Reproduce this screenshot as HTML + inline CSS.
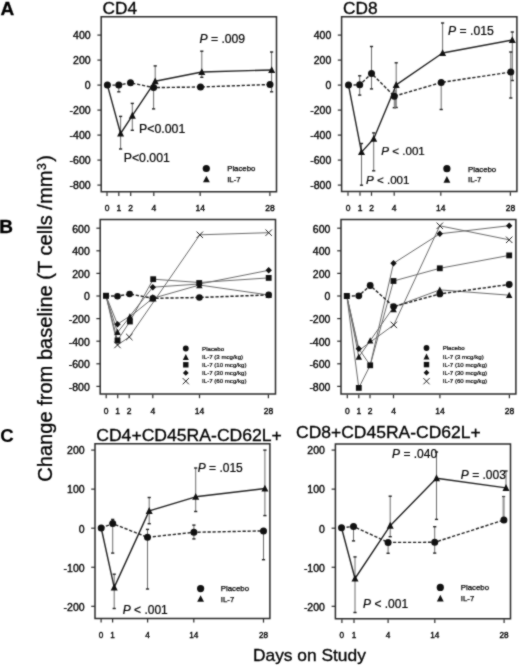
<!DOCTYPE html><html><head><meta charset="utf-8"><style>html,body{margin:0;padding:0;background:#fff;}svg{display:block}#w{width:520px;height:667px;overflow:hidden;filter:grayscale(1)}</style></head><body>
<div id="w">
<svg width="520" height="667" viewBox="0 0 520 667" font-family='"Liberation Sans", sans-serif'>
<defs><filter id="soft" x="0" y="0" width="520" height="667" filterUnits="userSpaceOnUse" color-interpolation-filters="sRGB"><feConvolveMatrix order="3" kernelMatrix="1 2 1 2 12 2 1 2 1" divisor="24" edgeMode="duplicate"/></filter></defs>
<g filter="url(#soft)">
<rect width="520" height="667" fill="#fff"/>
<text x="0.5" y="14.7" font-size="19" text-anchor="start" font-weight="bold" font-style="normal" fill="#000" stroke="#000" stroke-width="0.3" >A</text>
<text x="-0.8" y="233" font-size="19" text-anchor="start" font-weight="bold" font-style="normal" fill="#000" stroke="#000" stroke-width="0.3" >B</text>
<text x="0.3" y="441.9" font-size="18.6" text-anchor="start" font-weight="bold" font-style="normal" fill="#000" stroke="#000" stroke-width="0.1" >C</text>
<text transform="translate(52.3,481.8) rotate(-90)" font-size="20.1" fill="#000" stroke="#000" stroke-width="0.3">Change from baseline (T cells /mm<tspan font-size="12.2" dy="-6.5" dx="0.5">3</tspan><tspan dy="6.5" dx="1.6">)</tspan></text>
<text transform="translate(309.4,661.2) scale(1.06,1)" font-size="16.4" text-anchor="middle" font-weight="normal" font-style="normal" fill="#000" stroke="#000" stroke-width="0.3" >Days on Study</text>
<path d="M101.2 191.7V16.7H276.5V191.7Z" fill="none" stroke="#2a2a2a" stroke-width="1.5"/>
<text transform="translate(102.5,14.3) scale(1.06,1)" font-size="16.3" text-anchor="start" font-weight="normal" font-style="normal" fill="#000" stroke="#000" stroke-width="0.3" >CD4</text>
<line x1="97.4" y1="35.1" x2="101.2" y2="35.1" stroke="#2a2a2a" stroke-width="1.2"/>
<text x="90.6" y="39.4" font-size="10.5" text-anchor="end" font-weight="normal" font-style="normal" fill="#000" stroke="#000" stroke-width="0.35" >400</text>
<line x1="97.4" y1="60.1" x2="101.2" y2="60.1" stroke="#2a2a2a" stroke-width="1.2"/>
<text x="90.6" y="64.41" font-size="10.5" text-anchor="end" font-weight="normal" font-style="normal" fill="#000" stroke="#000" stroke-width="0.35" >200</text>
<line x1="97.4" y1="85.1" x2="101.2" y2="85.1" stroke="#2a2a2a" stroke-width="1.2"/>
<text x="90.6" y="89.41" font-size="10.5" text-anchor="end" font-weight="normal" font-style="normal" fill="#000" stroke="#000" stroke-width="0.35" >0</text>
<line x1="97.4" y1="110.1" x2="101.2" y2="110.1" stroke="#2a2a2a" stroke-width="1.2"/>
<text x="90.6" y="114.41" font-size="10.5" text-anchor="end" font-weight="normal" font-style="normal" fill="#000" stroke="#000" stroke-width="0.35" >-200</text>
<line x1="97.4" y1="135.1" x2="101.2" y2="135.1" stroke="#2a2a2a" stroke-width="1.2"/>
<text x="90.6" y="139.41" font-size="10.5" text-anchor="end" font-weight="normal" font-style="normal" fill="#000" stroke="#000" stroke-width="0.35" >-400</text>
<line x1="97.4" y1="160.1" x2="101.2" y2="160.1" stroke="#2a2a2a" stroke-width="1.2"/>
<text x="90.6" y="164.41" font-size="10.5" text-anchor="end" font-weight="normal" font-style="normal" fill="#000" stroke="#000" stroke-width="0.35" >-600</text>
<line x1="97.4" y1="185.1" x2="101.2" y2="185.1" stroke="#2a2a2a" stroke-width="1.2"/>
<text x="90.6" y="189.41" font-size="10.5" text-anchor="end" font-weight="normal" font-style="normal" fill="#000" stroke="#000" stroke-width="0.35" >-800</text>
<line x1="107" y1="192.3" x2="107" y2="195.9" stroke="#2a2a2a" stroke-width="1.2"/>
<text x="107" y="211" font-size="8.5" text-anchor="middle" font-weight="normal" font-style="normal" fill="#000" stroke="#000" stroke-width="0.35" >0</text>
<line x1="118.8" y1="192.3" x2="118.8" y2="195.9" stroke="#2a2a2a" stroke-width="1.2"/>
<text x="118.8" y="211" font-size="8.5" text-anchor="middle" font-weight="normal" font-style="normal" fill="#000" stroke="#000" stroke-width="0.35" >1</text>
<line x1="130.7" y1="192.3" x2="130.7" y2="195.9" stroke="#2a2a2a" stroke-width="1.2"/>
<text x="130.7" y="211" font-size="8.5" text-anchor="middle" font-weight="normal" font-style="normal" fill="#000" stroke="#000" stroke-width="0.35" >2</text>
<line x1="153.8" y1="192.3" x2="153.8" y2="195.9" stroke="#2a2a2a" stroke-width="1.2"/>
<text x="153.8" y="211" font-size="8.5" text-anchor="middle" font-weight="normal" font-style="normal" fill="#000" stroke="#000" stroke-width="0.35" >4</text>
<line x1="200.2" y1="192.3" x2="200.2" y2="195.9" stroke="#2a2a2a" stroke-width="1.2"/>
<text x="200.2" y="211" font-size="8.5" text-anchor="middle" font-weight="normal" font-style="normal" fill="#000" stroke="#000" stroke-width="0.35" >14</text>
<line x1="269.9" y1="192.3" x2="269.9" y2="195.9" stroke="#2a2a2a" stroke-width="1.2"/>
<text x="269.9" y="211" font-size="8.5" text-anchor="middle" font-weight="normal" font-style="normal" fill="#000" stroke="#000" stroke-width="0.35" >28</text>
<line x1="118.8" y1="85.1" x2="118.8" y2="91.8" stroke="#6a6a6a" stroke-width="1"/>
<line x1="117.2" y1="91.8" x2="120.4" y2="91.8" stroke="#222" stroke-width="1.4"/>
<line x1="120.6" y1="116.4" x2="120.6" y2="149" stroke="#6a6a6a" stroke-width="1"/>
<line x1="119" y1="116.4" x2="122.2" y2="116.4" stroke="#222" stroke-width="1.4"/>
<line x1="119" y1="149" x2="122.2" y2="149" stroke="#222" stroke-width="1.4"/>
<line x1="132.3" y1="103.4" x2="132.3" y2="130.3" stroke="#6a6a6a" stroke-width="1"/>
<line x1="130.7" y1="103.4" x2="133.9" y2="103.4" stroke="#222" stroke-width="1.4"/>
<line x1="130.7" y1="130.3" x2="133.9" y2="130.3" stroke="#222" stroke-width="1.4"/>
<line x1="155.2" y1="65.9" x2="155.2" y2="81.3" stroke="#6a6a6a" stroke-width="1"/>
<line x1="153.6" y1="65.9" x2="156.8" y2="65.9" stroke="#222" stroke-width="1.4"/>
<line x1="153.6" y1="87.6" x2="153.6" y2="108.9" stroke="#6a6a6a" stroke-width="1"/>
<line x1="152" y1="108.9" x2="155.2" y2="108.9" stroke="#222" stroke-width="1.4"/>
<line x1="201.8" y1="51.2" x2="201.8" y2="77.3" stroke="#6a6a6a" stroke-width="1"/>
<line x1="200.2" y1="51.2" x2="203.4" y2="51.2" stroke="#222" stroke-width="1.4"/>
<line x1="200.2" y1="77.3" x2="203.4" y2="77.3" stroke="#222" stroke-width="1.4"/>
<line x1="271.6" y1="52" x2="271.6" y2="91.8" stroke="#6a6a6a" stroke-width="1"/>
<line x1="270" y1="52" x2="273.2" y2="52" stroke="#222" stroke-width="1.4"/>
<line x1="270" y1="91.8" x2="273.2" y2="91.8" stroke="#222" stroke-width="1.4"/>
<path d="M107.4 85.1 L118.8 85.1 L130.5 82.8 L153.6 87.6 L200.5 87 L270 84.5" fill="none" stroke="#222" stroke-width="1.4" stroke-dasharray="3.3 1.7" stroke-linejoin="round"/>
<path d="M107.4 85.1 L120.6 133.5 L132.3 115.7 L155.2 81.3 L201.8 72 L271.7 70" fill="none" stroke="#222" stroke-width="1.4" stroke-linejoin="round"/>
<circle cx="107.4" cy="85.1" r="3.5" fill="#111"/>
<circle cx="118.8" cy="85.1" r="3.5" fill="#111"/>
<circle cx="130.5" cy="82.8" r="3.5" fill="#111"/>
<circle cx="153.6" cy="87.6" r="3.5" fill="#111"/>
<circle cx="200.5" cy="87" r="3.5" fill="#111"/>
<circle cx="270" cy="84.5" r="3.5" fill="#111"/>
<path d="M120.6 129.65L124.1 136.5L117.1 136.5Z" fill="#111"/>
<path d="M132.3 111.85L135.8 118.7L128.8 118.7Z" fill="#111"/>
<path d="M155.2 77.45L158.7 84.3L151.7 84.3Z" fill="#111"/>
<path d="M201.8 68.15L205.3 75L198.3 75Z" fill="#111"/>
<path d="M271.7 66.15L275.2 73L268.2 73Z" fill="#111"/>
<text x="199.4" y="42.5" font-size="12.2" text-anchor="start" font-weight="normal" font-style="normal" fill="#000" stroke="#000" stroke-width="0.2" ><tspan font-style="italic">P</tspan> = .009</text>
<text x="139.1" y="132.7" font-size="12.3" text-anchor="start" font-weight="normal" font-style="normal" fill="#000" stroke="#000" stroke-width="0.2" >P&lt;0.001</text>
<text x="123.7" y="162.3" font-size="12.3" text-anchor="start" font-weight="normal" font-style="normal" fill="#000" stroke="#000" stroke-width="0.2" >P&lt;0.001</text>
<circle cx="206.3" cy="168.5" r="3.6" fill="#111"/>
<path d="M206.4 175.66L209.8 182.32L203 182.32Z" fill="#111"/>
<text x="227.2" y="171.3" font-size="7.8" text-anchor="start" font-weight="normal" font-style="normal" fill="#000" stroke="#000" stroke-width="0.25" >Placebo</text>
<text x="227.2" y="182.2" font-size="7.8" text-anchor="start" font-weight="normal" font-style="normal" fill="#000" stroke="#000" stroke-width="0.25" >IL-7</text>
<path d="M341.6 191.6V16.7H516.9V191.6Z" fill="none" stroke="#2a2a2a" stroke-width="1.5"/>
<text transform="translate(343,14.3) scale(1.06,1)" font-size="16.3" text-anchor="start" font-weight="normal" font-style="normal" fill="#000" stroke="#000" stroke-width="0.3" >CD8</text>
<line x1="337.8" y1="35.1" x2="341.6" y2="35.1" stroke="#2a2a2a" stroke-width="1.2"/>
<text x="331.3" y="39.4" font-size="10.5" text-anchor="end" font-weight="normal" font-style="normal" fill="#000" stroke="#000" stroke-width="0.35" >400</text>
<line x1="337.8" y1="60.1" x2="341.6" y2="60.1" stroke="#2a2a2a" stroke-width="1.2"/>
<text x="331.3" y="64.41" font-size="10.5" text-anchor="end" font-weight="normal" font-style="normal" fill="#000" stroke="#000" stroke-width="0.35" >200</text>
<line x1="337.8" y1="85.1" x2="341.6" y2="85.1" stroke="#2a2a2a" stroke-width="1.2"/>
<text x="331.3" y="89.41" font-size="10.5" text-anchor="end" font-weight="normal" font-style="normal" fill="#000" stroke="#000" stroke-width="0.35" >0</text>
<line x1="337.8" y1="110.1" x2="341.6" y2="110.1" stroke="#2a2a2a" stroke-width="1.2"/>
<text x="331.3" y="114.41" font-size="10.5" text-anchor="end" font-weight="normal" font-style="normal" fill="#000" stroke="#000" stroke-width="0.35" >-200</text>
<line x1="337.8" y1="135.1" x2="341.6" y2="135.1" stroke="#2a2a2a" stroke-width="1.2"/>
<text x="331.3" y="139.41" font-size="10.5" text-anchor="end" font-weight="normal" font-style="normal" fill="#000" stroke="#000" stroke-width="0.35" >-400</text>
<line x1="337.8" y1="160.1" x2="341.6" y2="160.1" stroke="#2a2a2a" stroke-width="1.2"/>
<text x="331.3" y="164.41" font-size="10.5" text-anchor="end" font-weight="normal" font-style="normal" fill="#000" stroke="#000" stroke-width="0.35" >-600</text>
<line x1="337.8" y1="185.1" x2="341.6" y2="185.1" stroke="#2a2a2a" stroke-width="1.2"/>
<text x="331.3" y="189.41" font-size="10.5" text-anchor="end" font-weight="normal" font-style="normal" fill="#000" stroke="#000" stroke-width="0.35" >-800</text>
<line x1="348" y1="192.2" x2="348" y2="195.8" stroke="#2a2a2a" stroke-width="1.2"/>
<text x="348" y="211" font-size="8.5" text-anchor="middle" font-weight="normal" font-style="normal" fill="#000" stroke="#000" stroke-width="0.35" >0</text>
<line x1="360" y1="192.2" x2="360" y2="195.8" stroke="#2a2a2a" stroke-width="1.2"/>
<text x="360" y="211" font-size="8.5" text-anchor="middle" font-weight="normal" font-style="normal" fill="#000" stroke="#000" stroke-width="0.35" >1</text>
<line x1="371.5" y1="192.2" x2="371.5" y2="195.8" stroke="#2a2a2a" stroke-width="1.2"/>
<text x="371.5" y="211" font-size="8.5" text-anchor="middle" font-weight="normal" font-style="normal" fill="#000" stroke="#000" stroke-width="0.35" >2</text>
<line x1="394.2" y1="192.2" x2="394.2" y2="195.8" stroke="#2a2a2a" stroke-width="1.2"/>
<text x="394.2" y="211" font-size="8.5" text-anchor="middle" font-weight="normal" font-style="normal" fill="#000" stroke="#000" stroke-width="0.35" >4</text>
<line x1="440.8" y1="192.2" x2="440.8" y2="195.8" stroke="#2a2a2a" stroke-width="1.2"/>
<text x="440.8" y="211" font-size="8.5" text-anchor="middle" font-weight="normal" font-style="normal" fill="#000" stroke="#000" stroke-width="0.35" >14</text>
<line x1="510.4" y1="192.2" x2="510.4" y2="195.8" stroke="#2a2a2a" stroke-width="1.2"/>
<text x="510.4" y="211" font-size="8.5" text-anchor="middle" font-weight="normal" font-style="normal" fill="#000" stroke="#000" stroke-width="0.35" >28</text>
<line x1="359.7" y1="75.8" x2="359.7" y2="95.1" stroke="#6a6a6a" stroke-width="1"/>
<line x1="358.1" y1="75.8" x2="361.3" y2="75.8" stroke="#222" stroke-width="1.4"/>
<line x1="358.1" y1="95.1" x2="361.3" y2="95.1" stroke="#222" stroke-width="1.4"/>
<line x1="371.5" y1="46.5" x2="371.5" y2="88.9" stroke="#6a6a6a" stroke-width="1"/>
<line x1="369.9" y1="46.5" x2="373.1" y2="46.5" stroke="#222" stroke-width="1.4"/>
<line x1="369.9" y1="88.9" x2="373.1" y2="88.9" stroke="#222" stroke-width="1.4"/>
<line x1="361.5" y1="143.5" x2="361.5" y2="185.2" stroke="#6a6a6a" stroke-width="1"/>
<line x1="359.9" y1="143.5" x2="363.1" y2="143.5" stroke="#222" stroke-width="1.4"/>
<line x1="359.9" y1="185.2" x2="363.1" y2="185.2" stroke="#222" stroke-width="1.4"/>
<line x1="373.7" y1="132.9" x2="373.7" y2="170.8" stroke="#6a6a6a" stroke-width="1"/>
<line x1="372.1" y1="132.9" x2="375.3" y2="132.9" stroke="#222" stroke-width="1.4"/>
<line x1="372.1" y1="170.8" x2="375.3" y2="170.8" stroke="#222" stroke-width="1.4"/>
<line x1="396.2" y1="62.8" x2="396.2" y2="107.5" stroke="#6a6a6a" stroke-width="1"/>
<line x1="394.6" y1="62.8" x2="397.8" y2="62.8" stroke="#222" stroke-width="1.4"/>
<line x1="394.6" y1="107.5" x2="397.8" y2="107.5" stroke="#222" stroke-width="1.4"/>
<line x1="394.3" y1="96.2" x2="394.3" y2="107.7" stroke="#6a6a6a" stroke-width="1"/>
<line x1="392.7" y1="107.7" x2="395.9" y2="107.7" stroke="#222" stroke-width="1.4"/>
<line x1="395.2" y1="90" x2="395.2" y2="107.6" stroke="#8a8a8a" stroke-width="2.2"/>
<line x1="442.6" y1="23" x2="442.6" y2="53" stroke="#6a6a6a" stroke-width="1"/>
<line x1="441" y1="23" x2="444.2" y2="23" stroke="#222" stroke-width="1.4"/>
<line x1="441.2" y1="82.5" x2="441.2" y2="109.5" stroke="#6a6a6a" stroke-width="1"/>
<line x1="439.6" y1="109.5" x2="442.8" y2="109.5" stroke="#222" stroke-width="1.4"/>
<line x1="512.3" y1="32" x2="512.3" y2="80.5" stroke="#6a6a6a" stroke-width="1"/>
<line x1="510.7" y1="32" x2="513.9" y2="32" stroke="#222" stroke-width="1.4"/>
<line x1="510.7" y1="80.5" x2="513.9" y2="80.5" stroke="#222" stroke-width="1.4"/>
<line x1="510.8" y1="52" x2="510.8" y2="98" stroke="#6a6a6a" stroke-width="1"/>
<line x1="509.2" y1="52" x2="512.4" y2="52" stroke="#222" stroke-width="1.4"/>
<line x1="509.2" y1="98" x2="512.4" y2="98" stroke="#222" stroke-width="1.4"/>
<path d="M348.5 85.1 L359.7 84.8 L371.5 73.5 L394.3 96.2 L441.2 82.5 L510.8 72" fill="none" stroke="#222" stroke-width="1.4" stroke-dasharray="3.3 1.7" stroke-linejoin="round"/>
<path d="M348.5 85.1 L361.5 152.1 L373.7 138.8 L396.2 84.9 L442.6 53 L512.3 40" fill="none" stroke="#222" stroke-width="1.4" stroke-linejoin="round"/>
<circle cx="348.5" cy="85.1" r="3.5" fill="#111"/>
<circle cx="359.7" cy="84.8" r="3.5" fill="#111"/>
<circle cx="371.5" cy="73.5" r="3.5" fill="#111"/>
<circle cx="394.3" cy="96.2" r="3.5" fill="#111"/>
<circle cx="441.2" cy="82.5" r="3.5" fill="#111"/>
<circle cx="510.8" cy="72" r="3.5" fill="#111"/>
<path d="M361.5 148.25L365 155.1L358 155.1Z" fill="#111"/>
<path d="M373.7 134.95L377.2 141.8L370.2 141.8Z" fill="#111"/>
<path d="M396.2 81.05L399.7 87.9L392.7 87.9Z" fill="#111"/>
<path d="M442.6 49.15L446.1 56L439.1 56Z" fill="#111"/>
<path d="M512.3 36.15L515.8 43L508.8 43Z" fill="#111"/>
<text x="448" y="35" font-size="12.2" text-anchor="start" font-weight="normal" font-style="normal" fill="#000" stroke="#000" stroke-width="0.2" ><tspan font-style="italic">P</tspan> = .015</text>
<text x="381.3" y="155" font-size="11.6" text-anchor="start" font-weight="normal" font-style="normal" fill="#000" stroke="#000" stroke-width="0.2" ><tspan font-style="italic">P</tspan> &lt; .001</text>
<text x="366" y="184.4" font-size="11.6" text-anchor="start" font-weight="normal" font-style="normal" fill="#000" stroke="#000" stroke-width="0.2" ><tspan font-style="italic">P</tspan> &lt; .001</text>
<circle cx="446.9" cy="168.7" r="3.6" fill="#111"/>
<path d="M446.9 176.06L450.3 182.72L443.5 182.72Z" fill="#111"/>
<text x="468" y="171.6" font-size="7.8" text-anchor="start" font-weight="normal" font-style="normal" fill="#000" stroke="#000" stroke-width="0.25" >Placebo</text>
<text x="468" y="182.4" font-size="7.8" text-anchor="start" font-weight="normal" font-style="normal" fill="#000" stroke="#000" stroke-width="0.25" >IL-7</text>
<path d="M100.2 394V219.6H275.5V394Z" fill="none" stroke="#2a2a2a" stroke-width="1.5"/>
<line x1="96.4" y1="228.2" x2="100.2" y2="228.2" stroke="#2a2a2a" stroke-width="1.2"/>
<text x="89.8" y="232.5" font-size="10.5" text-anchor="end" font-weight="normal" font-style="normal" fill="#000" stroke="#000" stroke-width="0.35" >600</text>
<line x1="96.4" y1="250.8" x2="100.2" y2="250.8" stroke="#2a2a2a" stroke-width="1.2"/>
<text x="89.8" y="255.11" font-size="10.5" text-anchor="end" font-weight="normal" font-style="normal" fill="#000" stroke="#000" stroke-width="0.35" >400</text>
<line x1="96.4" y1="273.4" x2="100.2" y2="273.4" stroke="#2a2a2a" stroke-width="1.2"/>
<text x="89.8" y="277.7" font-size="10.5" text-anchor="end" font-weight="normal" font-style="normal" fill="#000" stroke="#000" stroke-width="0.35" >200</text>
<line x1="96.4" y1="296" x2="100.2" y2="296" stroke="#2a2a2a" stroke-width="1.2"/>
<text x="89.8" y="300.31" font-size="10.5" text-anchor="end" font-weight="normal" font-style="normal" fill="#000" stroke="#000" stroke-width="0.35" >0</text>
<line x1="96.4" y1="318.6" x2="100.2" y2="318.6" stroke="#2a2a2a" stroke-width="1.2"/>
<text x="89.8" y="322.91" font-size="10.5" text-anchor="end" font-weight="normal" font-style="normal" fill="#000" stroke="#000" stroke-width="0.35" >-200</text>
<line x1="96.4" y1="341.2" x2="100.2" y2="341.2" stroke="#2a2a2a" stroke-width="1.2"/>
<text x="89.8" y="345.5" font-size="10.5" text-anchor="end" font-weight="normal" font-style="normal" fill="#000" stroke="#000" stroke-width="0.35" >-400</text>
<line x1="96.4" y1="363.8" x2="100.2" y2="363.8" stroke="#2a2a2a" stroke-width="1.2"/>
<text x="89.8" y="368.11" font-size="10.5" text-anchor="end" font-weight="normal" font-style="normal" fill="#000" stroke="#000" stroke-width="0.35" >-600</text>
<line x1="96.4" y1="386.4" x2="100.2" y2="386.4" stroke="#2a2a2a" stroke-width="1.2"/>
<text x="89.8" y="390.7" font-size="10.5" text-anchor="end" font-weight="normal" font-style="normal" fill="#000" stroke="#000" stroke-width="0.35" >-800</text>
<line x1="106.2" y1="394.6" x2="106.2" y2="398.2" stroke="#2a2a2a" stroke-width="1.2"/>
<text x="106.2" y="413.8" font-size="8.5" text-anchor="middle" font-weight="normal" font-style="normal" fill="#000" stroke="#000" stroke-width="0.35" >0</text>
<line x1="117.7" y1="394.6" x2="117.7" y2="398.2" stroke="#2a2a2a" stroke-width="1.2"/>
<text x="117.7" y="413.8" font-size="8.5" text-anchor="middle" font-weight="normal" font-style="normal" fill="#000" stroke="#000" stroke-width="0.35" >1</text>
<line x1="129.2" y1="394.6" x2="129.2" y2="398.2" stroke="#2a2a2a" stroke-width="1.2"/>
<text x="129.2" y="413.8" font-size="8.5" text-anchor="middle" font-weight="normal" font-style="normal" fill="#000" stroke="#000" stroke-width="0.35" >2</text>
<line x1="152.8" y1="394.6" x2="152.8" y2="398.2" stroke="#2a2a2a" stroke-width="1.2"/>
<text x="152.8" y="413.8" font-size="8.5" text-anchor="middle" font-weight="normal" font-style="normal" fill="#000" stroke="#000" stroke-width="0.35" >4</text>
<line x1="199.5" y1="394.6" x2="199.5" y2="398.2" stroke="#2a2a2a" stroke-width="1.2"/>
<text x="199.5" y="413.8" font-size="8.5" text-anchor="middle" font-weight="normal" font-style="normal" fill="#000" stroke="#000" stroke-width="0.35" >14</text>
<line x1="268.4" y1="394.6" x2="268.4" y2="398.2" stroke="#2a2a2a" stroke-width="1.2"/>
<text x="268.4" y="413.8" font-size="8.5" text-anchor="middle" font-weight="normal" font-style="normal" fill="#000" stroke="#000" stroke-width="0.35" >28</text>
<path d="M106 295.8 L117.5 332.3 L129.9 316.8 L152.8 298.3 L199.4 285 L268.7 295" fill="none" stroke="#6a6a6a" stroke-width="1.0" stroke-linejoin="round"/>
<path d="M106 295.8 L117.5 340.4 L129.9 321.5 L153.2 279.2 L199.4 282.5 L268.7 277.9" fill="none" stroke="#6a6a6a" stroke-width="1.0" stroke-linejoin="round"/>
<path d="M106 295.8 L117.5 324.2 L129.9 316 L152.8 287.2 L199.4 284 L268.7 270.3" fill="none" stroke="#6a6a6a" stroke-width="1.0" stroke-linejoin="round"/>
<path d="M106 295.8 L117.5 345 L129.3 337 L199.8 234.8 L268.7 232.7" fill="none" stroke="#6a6a6a" stroke-width="1.0" stroke-linejoin="round"/>
<path d="M106 295.8 L117.5 296.2 L129.6 294 L152.8 298.3 L199.4 297.5 L268.7 294.9" fill="none" stroke="#222" stroke-width="1.45" stroke-dasharray="3.3 1.7" stroke-linejoin="round"/>
<rect x="103" y="292.8" width="6" height="6" fill="#111"/>
<path d="M117.5 328.78L120.7 335.05L114.3 335.05Z" fill="#111"/>
<path d="M129.9 313.28L133.1 319.55L126.7 319.55Z" fill="#111"/>
<path d="M199.4 281.98L202.6 288.25L196.2 288.25Z" fill="#111"/>
<path d="M268.7 291.68L271.9 297.95L265.5 297.95Z" fill="#111"/>
<circle cx="117.5" cy="296.2" r="3.3" fill="#111"/>
<circle cx="129.6" cy="294" r="3.3" fill="#111"/>
<circle cx="152.8" cy="298.3" r="3.3" fill="#111"/>
<circle cx="199.4" cy="297.5" r="3.3" fill="#111"/>
<circle cx="268.7" cy="294.9" r="3.3" fill="#111"/>
<path d="M152.8 294.02L156.6 301.46L149 301.46Z" fill="#111"/>
<rect x="114.6" y="337.5" width="5.8" height="5.8" fill="#111"/>
<rect x="127" y="318.6" width="5.8" height="5.8" fill="#111"/>
<rect x="150.3" y="276.3" width="5.8" height="5.8" fill="#111"/>
<rect x="196.3" y="280.1" width="5.8" height="5.8" fill="#111"/>
<rect x="265.8" y="275" width="5.8" height="5.8" fill="#111"/>
<path d="M117.5 321L120.7 324.2L117.5 327.4L114.3 324.2Z" fill="#111"/>
<path d="M152.8 284L156 287.2L152.8 290.4L149.6 287.2Z" fill="#111"/>
<path d="M268.7 267.1L271.9 270.3L268.7 273.5L265.5 270.3Z" fill="#111"/>
<path d="M114.3 341.8L120.7 348.2M120.7 341.8L114.3 348.2" stroke="#222" stroke-width="1.0" fill="none"/>
<path d="M126.1 333.8L132.5 340.2M132.5 333.8L126.1 340.2" stroke="#222" stroke-width="1.0" fill="none"/>
<path d="M196.6 231.6L203 238M203 231.6L196.6 238" stroke="#222" stroke-width="1.0" fill="none"/>
<path d="M265.5 229.5L271.9 235.9M271.9 229.5L265.5 235.9" stroke="#222" stroke-width="1.0" fill="none"/>
<circle cx="185.8" cy="348.5" r="2.9" fill="#111"/>
<path d="M185.8 354.1L188.8 359.97L182.8 359.97Z" fill="#111"/>
<rect x="183.1" y="362.1" width="5.4" height="5.4" fill="#111"/>
<path d="M185.8 370L188.7 372.9L185.8 375.8L182.9 372.9Z" fill="#111"/>
<path d="M182.7 378.1L188.9 384.3M188.9 378.1L182.7 384.3" stroke="#222" stroke-width="1.0" fill="none"/>
<text x="202.1" y="350.7" font-size="6.1" text-anchor="start" font-weight="normal" font-style="normal" fill="#000" stroke="#000" stroke-width="0.2" >Placebo</text>
<text x="202.1" y="359.3" font-size="6.1" text-anchor="start" font-weight="normal" font-style="normal" fill="#000" stroke="#000" stroke-width="0.2" >IL-7 (3 mcg/kg)</text>
<text x="202.1" y="367" font-size="6.1" text-anchor="start" font-weight="normal" font-style="normal" fill="#000" stroke="#000" stroke-width="0.2" >IL-7 (10 mcg/kg)</text>
<text x="202.1" y="375.1" font-size="6.1" text-anchor="start" font-weight="normal" font-style="normal" fill="#000" stroke="#000" stroke-width="0.2" >IL-7 (30 mcg/kg)</text>
<text x="202.1" y="383.4" font-size="6.1" text-anchor="start" font-weight="normal" font-style="normal" fill="#000" stroke="#000" stroke-width="0.2" >IL-7 (60 mcg/kg)</text>
<path d="M341 394.1V219.5H515.9V394.1Z" fill="none" stroke="#2a2a2a" stroke-width="1.5"/>
<line x1="337.2" y1="228.2" x2="341" y2="228.2" stroke="#2a2a2a" stroke-width="1.2"/>
<text x="330.4" y="232.5" font-size="10.5" text-anchor="end" font-weight="normal" font-style="normal" fill="#000" stroke="#000" stroke-width="0.35" >600</text>
<line x1="337.2" y1="250.8" x2="341" y2="250.8" stroke="#2a2a2a" stroke-width="1.2"/>
<text x="330.4" y="255.11" font-size="10.5" text-anchor="end" font-weight="normal" font-style="normal" fill="#000" stroke="#000" stroke-width="0.35" >400</text>
<line x1="337.2" y1="273.4" x2="341" y2="273.4" stroke="#2a2a2a" stroke-width="1.2"/>
<text x="330.4" y="277.7" font-size="10.5" text-anchor="end" font-weight="normal" font-style="normal" fill="#000" stroke="#000" stroke-width="0.35" >200</text>
<line x1="337.2" y1="296" x2="341" y2="296" stroke="#2a2a2a" stroke-width="1.2"/>
<text x="330.4" y="300.31" font-size="10.5" text-anchor="end" font-weight="normal" font-style="normal" fill="#000" stroke="#000" stroke-width="0.35" >0</text>
<line x1="337.2" y1="318.6" x2="341" y2="318.6" stroke="#2a2a2a" stroke-width="1.2"/>
<text x="330.4" y="322.91" font-size="10.5" text-anchor="end" font-weight="normal" font-style="normal" fill="#000" stroke="#000" stroke-width="0.35" >-200</text>
<line x1="337.2" y1="341.2" x2="341" y2="341.2" stroke="#2a2a2a" stroke-width="1.2"/>
<text x="330.4" y="345.5" font-size="10.5" text-anchor="end" font-weight="normal" font-style="normal" fill="#000" stroke="#000" stroke-width="0.35" >-400</text>
<line x1="337.2" y1="363.8" x2="341" y2="363.8" stroke="#2a2a2a" stroke-width="1.2"/>
<text x="330.4" y="368.11" font-size="10.5" text-anchor="end" font-weight="normal" font-style="normal" fill="#000" stroke="#000" stroke-width="0.35" >-600</text>
<line x1="337.2" y1="386.4" x2="341" y2="386.4" stroke="#2a2a2a" stroke-width="1.2"/>
<text x="330.4" y="390.7" font-size="10.5" text-anchor="end" font-weight="normal" font-style="normal" fill="#000" stroke="#000" stroke-width="0.35" >-800</text>
<line x1="347.3" y1="394.7" x2="347.3" y2="398.3" stroke="#2a2a2a" stroke-width="1.2"/>
<text x="347.3" y="413.8" font-size="8.5" text-anchor="middle" font-weight="normal" font-style="normal" fill="#000" stroke="#000" stroke-width="0.35" >0</text>
<line x1="358.8" y1="394.7" x2="358.8" y2="398.3" stroke="#2a2a2a" stroke-width="1.2"/>
<text x="358.8" y="413.8" font-size="8.5" text-anchor="middle" font-weight="normal" font-style="normal" fill="#000" stroke="#000" stroke-width="0.35" >1</text>
<line x1="370" y1="394.7" x2="370" y2="398.3" stroke="#2a2a2a" stroke-width="1.2"/>
<text x="370" y="413.8" font-size="8.5" text-anchor="middle" font-weight="normal" font-style="normal" fill="#000" stroke="#000" stroke-width="0.35" >2</text>
<line x1="393.5" y1="394.7" x2="393.5" y2="398.3" stroke="#2a2a2a" stroke-width="1.2"/>
<text x="393.5" y="413.8" font-size="8.5" text-anchor="middle" font-weight="normal" font-style="normal" fill="#000" stroke="#000" stroke-width="0.35" >4</text>
<line x1="439.9" y1="394.7" x2="439.9" y2="398.3" stroke="#2a2a2a" stroke-width="1.2"/>
<text x="439.9" y="413.8" font-size="8.5" text-anchor="middle" font-weight="normal" font-style="normal" fill="#000" stroke="#000" stroke-width="0.35" >14</text>
<line x1="509.4" y1="394.7" x2="509.4" y2="398.3" stroke="#2a2a2a" stroke-width="1.2"/>
<text x="509.4" y="413.8" font-size="8.5" text-anchor="middle" font-weight="normal" font-style="normal" fill="#000" stroke="#000" stroke-width="0.35" >28</text>
<path d="M346.8 296 L358.8 357 L370.2 340.7 L393.6 307 L439.8 289.9 L509.2 295.2" fill="none" stroke="#6a6a6a" stroke-width="1.0" stroke-linejoin="round"/>
<path d="M346.8 296 L358.8 387.9 L370.2 365.3 L393.5 281 L439.8 268.3 L509.2 255.4" fill="none" stroke="#6a6a6a" stroke-width="1.0" stroke-linejoin="round"/>
<path d="M346.8 296 L358.8 348.7 L370.2 365.3 L393.5 263.3 L439.8 233.8 L509.2 225.7" fill="none" stroke="#6a6a6a" stroke-width="1.0" stroke-linejoin="round"/>
<path d="M346.8 296 L358.8 350.5 L393.8 324.9 L439.8 225.8 L509.2 239.8" fill="none" stroke="#6a6a6a" stroke-width="1.0" stroke-linejoin="round"/>
<path d="M346.8 296 L358.8 295.8 L370.2 285.5 L393.6 306.6 L439.8 293.9 L509.2 284.5" fill="none" stroke="#222" stroke-width="1.45" stroke-dasharray="3.3 1.7" stroke-linejoin="round"/>
<rect x="343.8" y="293" width="6" height="6" fill="#111"/>
<path d="M358.8 353.48L362 359.75L355.6 359.75Z" fill="#111"/>
<path d="M370.2 337.18L373.4 343.45L367 343.45Z" fill="#111"/>
<path d="M393.6 305.98L396.8 312.25L390.4 312.25Z" fill="#111"/>
<path d="M509.2 291.68L512.4 297.95L506 297.95Z" fill="#111"/>
<circle cx="358.8" cy="295.8" r="3.4" fill="#111"/>
<circle cx="370.2" cy="285.5" r="3.4" fill="#111"/>
<circle cx="393.6" cy="306.6" r="3.4" fill="#111"/>
<circle cx="439.8" cy="293.9" r="3.4" fill="#111"/>
<circle cx="509.2" cy="284.5" r="3.4" fill="#111"/>
<path d="M439.8 286.38L443 292.65L436.6 292.65Z" fill="#111"/>
<rect x="355.9" y="385" width="5.8" height="5.8" fill="#111"/>
<rect x="367.3" y="362.4" width="5.8" height="5.8" fill="#111"/>
<rect x="390.6" y="278.1" width="5.8" height="5.8" fill="#111"/>
<rect x="436.9" y="265.4" width="5.8" height="5.8" fill="#111"/>
<rect x="506.3" y="252.5" width="5.8" height="5.8" fill="#111"/>
<path d="M358.8 345.5L362 348.7L358.8 351.9L355.6 348.7Z" fill="#111"/>
<path d="M393.5 260.1L396.7 263.3L393.5 266.5L390.3 263.3Z" fill="#111"/>
<path d="M439.8 230.6L443 233.8L439.8 237L436.6 233.8Z" fill="#111"/>
<path d="M509.2 222.5L512.4 225.7L509.2 228.9L506 225.7Z" fill="#111"/>
<path d="M390.6 321.7L397 328.1M397 321.7L390.6 328.1" stroke="#222" stroke-width="1.0" fill="none"/>
<path d="M436.6 222.6L443 229M443 222.6L436.6 229" stroke="#222" stroke-width="1.0" fill="none"/>
<path d="M506 236.6L512.4 243M512.4 236.6L506 243" stroke="#222" stroke-width="1.0" fill="none"/>
<circle cx="426.5" cy="348" r="2.9" fill="#111"/>
<path d="M426.5 353.6L429.5 359.47L423.5 359.47Z" fill="#111"/>
<rect x="423.8" y="361.9" width="5.4" height="5.4" fill="#111"/>
<path d="M426.5 369.8L429.4 372.7L426.5 375.6L423.6 372.7Z" fill="#111"/>
<path d="M423.4 378.1L429.6 384.3M429.6 378.1L423.4 384.3" stroke="#222" stroke-width="1.0" fill="none"/>
<text x="442.7" y="350.2" font-size="6.1" text-anchor="start" font-weight="normal" font-style="normal" fill="#000" stroke="#000" stroke-width="0.2" >Placebo</text>
<text x="442.7" y="358.7" font-size="6.1" text-anchor="start" font-weight="normal" font-style="normal" fill="#000" stroke="#000" stroke-width="0.2" >IL-7 (3 mcg/kg)</text>
<text x="442.7" y="366.8" font-size="6.1" text-anchor="start" font-weight="normal" font-style="normal" fill="#000" stroke="#000" stroke-width="0.2" >IL-7 (10 mcg/kg)</text>
<text x="442.7" y="374.9" font-size="6.1" text-anchor="start" font-weight="normal" font-style="normal" fill="#000" stroke="#000" stroke-width="0.2" >IL-7 (30 mcg/kg)</text>
<text x="442.7" y="383.4" font-size="6.1" text-anchor="start" font-weight="normal" font-style="normal" fill="#000" stroke="#000" stroke-width="0.2" >IL-7 (60 mcg/kg)</text>
<path d="M95 618.4V443.8H269.9V618.4Z" fill="none" stroke="#2a2a2a" stroke-width="1.5"/>
<text transform="translate(96.2,440.6) scale(1.06,1)" font-size="16.6" text-anchor="start" font-weight="normal" font-style="normal" fill="#000" stroke="#000" stroke-width="0.3" >CD4+CD45RA-CD62L+</text>
<line x1="91.2" y1="450.08" x2="95" y2="450.08" stroke="#2a2a2a" stroke-width="1.2"/>
<text x="84.6" y="454.39" font-size="10.5" text-anchor="end" font-weight="normal" font-style="normal" fill="#000" stroke="#000" stroke-width="0.35" >200</text>
<line x1="91.2" y1="489.14" x2="95" y2="489.14" stroke="#2a2a2a" stroke-width="1.2"/>
<text x="84.6" y="493.45" font-size="10.5" text-anchor="end" font-weight="normal" font-style="normal" fill="#000" stroke="#000" stroke-width="0.35" >100</text>
<line x1="91.2" y1="528.2" x2="95" y2="528.2" stroke="#2a2a2a" stroke-width="1.2"/>
<text x="84.6" y="532.5" font-size="10.5" text-anchor="end" font-weight="normal" font-style="normal" fill="#000" stroke="#000" stroke-width="0.35" >0</text>
<line x1="91.2" y1="567.26" x2="95" y2="567.26" stroke="#2a2a2a" stroke-width="1.2"/>
<text x="84.6" y="571.56" font-size="10.5" text-anchor="end" font-weight="normal" font-style="normal" fill="#000" stroke="#000" stroke-width="0.35" >-100</text>
<line x1="91.2" y1="606.32" x2="95" y2="606.32" stroke="#2a2a2a" stroke-width="1.2"/>
<text x="84.6" y="610.62" font-size="10.5" text-anchor="end" font-weight="normal" font-style="normal" fill="#000" stroke="#000" stroke-width="0.35" >-200</text>
<line x1="101.1" y1="619" x2="101.1" y2="622.6" stroke="#2a2a2a" stroke-width="1.2"/>
<text x="101.1" y="638.2" font-size="8.2" text-anchor="middle" font-weight="normal" font-style="normal" fill="#000" stroke="#000" stroke-width="0.35" >0</text>
<line x1="112.6" y1="619" x2="112.6" y2="622.6" stroke="#2a2a2a" stroke-width="1.2"/>
<text x="112.6" y="638.2" font-size="8.2" text-anchor="middle" font-weight="normal" font-style="normal" fill="#000" stroke="#000" stroke-width="0.35" >1</text>
<line x1="147.6" y1="619" x2="147.6" y2="622.6" stroke="#2a2a2a" stroke-width="1.2"/>
<text x="147.6" y="638.2" font-size="8.2" text-anchor="middle" font-weight="normal" font-style="normal" fill="#000" stroke="#000" stroke-width="0.35" >4</text>
<line x1="193.8" y1="619" x2="193.8" y2="622.6" stroke="#2a2a2a" stroke-width="1.2"/>
<text x="193.8" y="638.2" font-size="8.2" text-anchor="middle" font-weight="normal" font-style="normal" fill="#000" stroke="#000" stroke-width="0.35" >14</text>
<line x1="263.5" y1="619" x2="263.5" y2="622.6" stroke="#2a2a2a" stroke-width="1.2"/>
<text x="263.5" y="638.2" font-size="8.2" text-anchor="middle" font-weight="normal" font-style="normal" fill="#000" stroke="#000" stroke-width="0.35" >28</text>
<line x1="112.7" y1="519.4" x2="112.7" y2="553.1" stroke="#6a6a6a" stroke-width="1"/>
<line x1="111.1" y1="519.4" x2="114.3" y2="519.4" stroke="#222" stroke-width="1.4"/>
<line x1="111.1" y1="553.1" x2="114.3" y2="553.1" stroke="#222" stroke-width="1.4"/>
<line x1="114.2" y1="574.2" x2="114.2" y2="608.5" stroke="#6a6a6a" stroke-width="1"/>
<line x1="112.6" y1="574.2" x2="115.8" y2="574.2" stroke="#222" stroke-width="1.4"/>
<line x1="112.6" y1="608.5" x2="115.8" y2="608.5" stroke="#222" stroke-width="1.4"/>
<line x1="149.2" y1="497.5" x2="149.2" y2="523.7" stroke="#6a6a6a" stroke-width="1"/>
<line x1="147.6" y1="497.5" x2="150.8" y2="497.5" stroke="#222" stroke-width="1.4"/>
<line x1="147.6" y1="523.7" x2="150.8" y2="523.7" stroke="#222" stroke-width="1.4"/>
<line x1="147.5" y1="529.4" x2="147.5" y2="589" stroke="#6a6a6a" stroke-width="1"/>
<line x1="145.9" y1="529.4" x2="149.1" y2="529.4" stroke="#222" stroke-width="1.4"/>
<line x1="145.9" y1="589" x2="149.1" y2="589" stroke="#222" stroke-width="1.4"/>
<line x1="195.7" y1="468" x2="195.7" y2="511.5" stroke="#6a6a6a" stroke-width="1"/>
<line x1="194.1" y1="468" x2="197.3" y2="468" stroke="#222" stroke-width="1.4"/>
<line x1="194.1" y1="511.5" x2="197.3" y2="511.5" stroke="#222" stroke-width="1.4"/>
<line x1="193.9" y1="525.1" x2="193.9" y2="538.9" stroke="#6a6a6a" stroke-width="1"/>
<line x1="192.3" y1="525.1" x2="195.5" y2="525.1" stroke="#222" stroke-width="1.4"/>
<line x1="192.3" y1="538.9" x2="195.5" y2="538.9" stroke="#222" stroke-width="1.4"/>
<line x1="264.9" y1="450.1" x2="264.9" y2="515.6" stroke="#6a6a6a" stroke-width="1"/>
<line x1="263.3" y1="450.1" x2="266.5" y2="450.1" stroke="#222" stroke-width="1.4"/>
<line x1="263.3" y1="515.6" x2="266.5" y2="515.6" stroke="#222" stroke-width="1.4"/>
<line x1="263.5" y1="530.9" x2="263.5" y2="559.7" stroke="#6a6a6a" stroke-width="1"/>
<line x1="261.9" y1="559.7" x2="265.1" y2="559.7" stroke="#222" stroke-width="1.4"/>
<path d="M101.2 528 L112.7 523.6 L147.5 537.3 L193.9 532.3 L263.5 530.9" fill="none" stroke="#222" stroke-width="1.4" stroke-dasharray="3.3 1.7" stroke-linejoin="round"/>
<path d="M101.2 528 L114.2 587.4 L149.2 510.9 L195.7 496.8 L264.9 488.5" fill="none" stroke="#222" stroke-width="1.4" stroke-linejoin="round"/>
<circle cx="101.2" cy="528" r="3.5" fill="#111"/>
<circle cx="112.7" cy="523.6" r="3.5" fill="#111"/>
<circle cx="147.5" cy="537.3" r="3.5" fill="#111"/>
<circle cx="193.9" cy="532.3" r="3.5" fill="#111"/>
<circle cx="263.5" cy="530.9" r="3.5" fill="#111"/>
<path d="M114.2 583.55L117.7 590.4L110.7 590.4Z" fill="#111"/>
<path d="M149.2 507.05L152.7 513.9L145.7 513.9Z" fill="#111"/>
<path d="M195.7 492.95L199.2 499.8L192.2 499.8Z" fill="#111"/>
<path d="M264.9 484.65L268.4 491.5L261.4 491.5Z" fill="#111"/>
<text x="197.7" y="471.7" font-size="12" text-anchor="start" font-weight="normal" font-style="normal" fill="#000" stroke="#000" stroke-width="0.2" ><tspan font-style="italic">P</tspan> = .015</text>
<text x="122.7" y="614.2" font-size="12" text-anchor="start" font-weight="normal" font-style="normal" fill="#000" stroke="#000" stroke-width="0.2" ><tspan font-style="italic">P</tspan> &lt; .001</text>
<circle cx="200.6" cy="588.6" r="3.6" fill="#111"/>
<path d="M200.6 595.16L204 601.82L197.2 601.82Z" fill="#111"/>
<text x="220.8" y="591.4" font-size="7.8" text-anchor="start" font-weight="normal" font-style="normal" fill="#000" stroke="#000" stroke-width="0.25" >Placebo</text>
<text x="220.8" y="601.8" font-size="7.8" text-anchor="start" font-weight="normal" font-style="normal" fill="#000" stroke="#000" stroke-width="0.25" >IL-7</text>
<path d="M335.4 618.7V443.9H510.5V618.7Z" fill="none" stroke="#2a2a2a" stroke-width="1.5"/>
<text transform="translate(296,437.9) scale(1.055,1)" font-size="16.6" text-anchor="start" font-weight="normal" font-style="normal" fill="#000" stroke="#000" stroke-width="0.3" >CD8+CD45RA-CD62L+</text>
<line x1="331.6" y1="450.08" x2="335.4" y2="450.08" stroke="#2a2a2a" stroke-width="1.2"/>
<text x="324.9" y="454.39" font-size="10.5" text-anchor="end" font-weight="normal" font-style="normal" fill="#000" stroke="#000" stroke-width="0.35" >200</text>
<line x1="331.6" y1="489.14" x2="335.4" y2="489.14" stroke="#2a2a2a" stroke-width="1.2"/>
<text x="324.9" y="493.45" font-size="10.5" text-anchor="end" font-weight="normal" font-style="normal" fill="#000" stroke="#000" stroke-width="0.35" >100</text>
<line x1="331.6" y1="528.2" x2="335.4" y2="528.2" stroke="#2a2a2a" stroke-width="1.2"/>
<text x="324.9" y="532.5" font-size="10.5" text-anchor="end" font-weight="normal" font-style="normal" fill="#000" stroke="#000" stroke-width="0.35" >0</text>
<line x1="331.6" y1="567.26" x2="335.4" y2="567.26" stroke="#2a2a2a" stroke-width="1.2"/>
<text x="324.9" y="571.56" font-size="10.5" text-anchor="end" font-weight="normal" font-style="normal" fill="#000" stroke="#000" stroke-width="0.35" >-100</text>
<line x1="331.6" y1="606.32" x2="335.4" y2="606.32" stroke="#2a2a2a" stroke-width="1.2"/>
<text x="324.9" y="610.62" font-size="10.5" text-anchor="end" font-weight="normal" font-style="normal" fill="#000" stroke="#000" stroke-width="0.35" >-200</text>
<line x1="341.9" y1="619.3" x2="341.9" y2="622.9" stroke="#2a2a2a" stroke-width="1.2"/>
<text x="341.9" y="638.4" font-size="8.2" text-anchor="middle" font-weight="normal" font-style="normal" fill="#000" stroke="#000" stroke-width="0.35" >0</text>
<line x1="354" y1="619.3" x2="354" y2="622.9" stroke="#2a2a2a" stroke-width="1.2"/>
<text x="354" y="638.4" font-size="8.2" text-anchor="middle" font-weight="normal" font-style="normal" fill="#000" stroke="#000" stroke-width="0.35" >1</text>
<line x1="388.1" y1="619.3" x2="388.1" y2="622.9" stroke="#2a2a2a" stroke-width="1.2"/>
<text x="388.1" y="638.4" font-size="8.2" text-anchor="middle" font-weight="normal" font-style="normal" fill="#000" stroke="#000" stroke-width="0.35" >4</text>
<line x1="434.8" y1="619.3" x2="434.8" y2="622.9" stroke="#2a2a2a" stroke-width="1.2"/>
<text x="434.8" y="638.4" font-size="8.2" text-anchor="middle" font-weight="normal" font-style="normal" fill="#000" stroke="#000" stroke-width="0.35" >14</text>
<line x1="504.1" y1="619.3" x2="504.1" y2="622.9" stroke="#2a2a2a" stroke-width="1.2"/>
<text x="504.1" y="638.4" font-size="8.2" text-anchor="middle" font-weight="normal" font-style="normal" fill="#000" stroke="#000" stroke-width="0.35" >28</text>
<line x1="353.5" y1="526.5" x2="353.5" y2="540.9" stroke="#6a6a6a" stroke-width="1"/>
<line x1="351.9" y1="540.9" x2="355.1" y2="540.9" stroke="#222" stroke-width="1.4"/>
<line x1="355" y1="556.9" x2="355" y2="612.5" stroke="#6a6a6a" stroke-width="1"/>
<line x1="353.4" y1="556.9" x2="356.6" y2="556.9" stroke="#222" stroke-width="1.4"/>
<line x1="353.4" y1="612.5" x2="356.6" y2="612.5" stroke="#222" stroke-width="1.4"/>
<line x1="390.2" y1="496.2" x2="390.2" y2="536.7" stroke="#6a6a6a" stroke-width="1"/>
<line x1="388.6" y1="496.2" x2="391.8" y2="496.2" stroke="#222" stroke-width="1.4"/>
<line x1="388.6" y1="536.7" x2="391.8" y2="536.7" stroke="#222" stroke-width="1.4"/>
<line x1="388.1" y1="542.4" x2="388.1" y2="553.3" stroke="#6a6a6a" stroke-width="1"/>
<line x1="386.5" y1="553.3" x2="389.7" y2="553.3" stroke="#222" stroke-width="1.4"/>
<line x1="436.5" y1="452" x2="436.5" y2="519.4" stroke="#6a6a6a" stroke-width="1"/>
<line x1="434.9" y1="452" x2="438.1" y2="452" stroke="#222" stroke-width="1.4"/>
<line x1="434.9" y1="519.4" x2="438.1" y2="519.4" stroke="#222" stroke-width="1.4"/>
<line x1="434.7" y1="526.7" x2="434.7" y2="553.1" stroke="#6a6a6a" stroke-width="1"/>
<line x1="433.1" y1="526.7" x2="436.3" y2="526.7" stroke="#222" stroke-width="1.4"/>
<line x1="433.1" y1="553.1" x2="436.3" y2="553.1" stroke="#222" stroke-width="1.4"/>
<line x1="506" y1="471" x2="506" y2="487.9" stroke="#6a6a6a" stroke-width="1"/>
<line x1="504.4" y1="471" x2="507.6" y2="471" stroke="#222" stroke-width="1.4"/>
<line x1="503.6" y1="496.5" x2="503.6" y2="520" stroke="#999" stroke-width="2.2"/>
<line x1="502" y1="496.5" x2="505.2" y2="496.5" stroke="#444" stroke-width="1.2"/>
<path d="M341.5 527.8 L353.5 526.5 L388.1 542.4 L434.7 542.3 L503.9 520" fill="none" stroke="#222" stroke-width="1.4" stroke-dasharray="3.3 1.7" stroke-linejoin="round"/>
<path d="M341.5 527.8 L355 578.5 L390.2 525.7 L436.5 478.2 L506 487.9" fill="none" stroke="#222" stroke-width="1.4" stroke-linejoin="round"/>
<circle cx="341.5" cy="527.8" r="3.5" fill="#111"/>
<circle cx="353.5" cy="526.5" r="3.5" fill="#111"/>
<circle cx="388.1" cy="542.4" r="3.5" fill="#111"/>
<circle cx="434.7" cy="542.3" r="3.5" fill="#111"/>
<circle cx="503.9" cy="520" r="3.5" fill="#111"/>
<path d="M355 574.65L358.5 581.5L351.5 581.5Z" fill="#111"/>
<path d="M390.2 521.85L393.7 528.7L386.7 528.7Z" fill="#111"/>
<path d="M436.5 474.35L440 481.2L433 481.2Z" fill="#111"/>
<path d="M506 484.05L509.5 490.9L502.5 490.9Z" fill="#111"/>
<text x="392.1" y="458.3" font-size="12" text-anchor="start" font-weight="normal" font-style="normal" fill="#000" stroke="#000" stroke-width="0.2" ><tspan font-style="italic">P</tspan> = .040</text>
<text x="460.8" y="479" font-size="12" text-anchor="start" font-weight="normal" font-style="normal" fill="#000" stroke="#000" stroke-width="0.2" ><tspan font-style="italic">P</tspan> = .003</text>
<text x="363.1" y="607.7" font-size="12" text-anchor="start" font-weight="normal" font-style="normal" fill="#000" stroke="#000" stroke-width="0.2" ><tspan font-style="italic">P</tspan> &lt; .001</text>
<circle cx="440.3" cy="587.4" r="3.6" fill="#111"/>
<path d="M440.3 594.76L443.7 601.42L436.9 601.42Z" fill="#111"/>
<text x="460.8" y="590.3" font-size="7.8" text-anchor="start" font-weight="normal" font-style="normal" fill="#000" stroke="#000" stroke-width="0.25" >Placebo</text>
<text x="460.8" y="601" font-size="7.8" text-anchor="start" font-weight="normal" font-style="normal" fill="#000" stroke="#000" stroke-width="0.25" >IL-7</text>
</g></svg></div></body></html>
